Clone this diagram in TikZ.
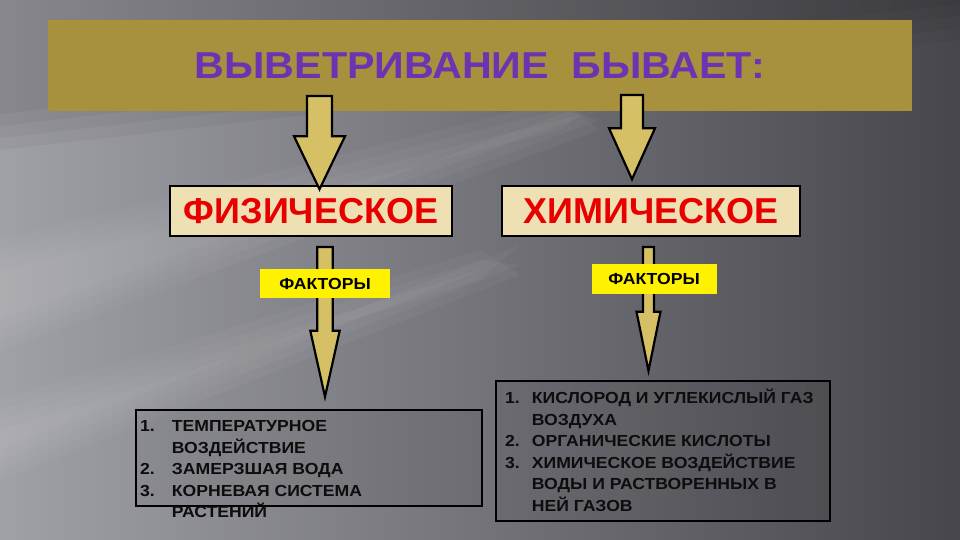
\documentclass[tikz,border=0pt]{standalone}
\usepackage{fontspec}
\setmainfont[FakeStretch=1.1]{Liberation Sans}
\newfontfamily\plainsans{Liberation Sans}
\usetikzlibrary{calc}

\definecolor{bandgold}{RGB}{168,145,60}
\definecolor{arrowgold}{RGB}{214,192,102}
\definecolor{boxbeige}{RGB}{238,224,178}
\definecolor{titlepurple}{RGB}{108,52,178}
\definecolor{catred}{RGB}{232,0,0}
\definecolor{bglight}{RGB}{160,160,167}
\definecolor{bgdark}{RGB}{70,70,76}

% block arrow: start, end, shaft half width, head half width, head length
\newcommand{\blockarrow}[5]{\draw[arrowbody] let \p1=(#1), \p2=(#2) in
  (\x1-#3,\y1) -- (\x1+#3,\y1) -- (\x1+#3,\y2+#5) -- (\x1+#4,\y2+#5) -- (\x1,\y2)
  -- (\x1-#4,\y2+#5) -- (\x1-#3,\y2+#5) -- cycle;}

\tikzset{
  titleband/.style={fill=bandgold, minimum width=864pt, minimum height=91pt, inner sep=0pt,
    text=titlepurple, font=\bfseries\fontsize{37.5}{40}\selectfont},
  catbox/.style={draw, line width=1.5pt, fill=boxbeige, text=catred, inner sep=0pt,
    minimum height=50pt, font=\plainsans\bfseries\fontsize{36}{40}\selectfont},
  factbox/.style={fill=yellow, inner sep=0pt, minimum height=29.5pt,
    font=\bfseries\fontsize{16}{18}\selectfont},
  listbox/.style={draw, line width=2.5pt, fill=black, fill opacity=0.06},
  listtext/.style={anchor=north west, inner sep=0pt, align=left, text=black!95,
    font=\bfseries\fontsize{16}{21.5}\selectfont},
  arrowbody/.style={draw, line width=2.2pt, fill=arrowgold, line join=miter},
  streak/.style={fill=white, opacity=0.035}
}

\begin{document}
\begin{tikzpicture}[x=1pt, y=-1pt]
  \useasboundingbox (0,0) rectangle (960,540);
  % background
  \begin{scope}
    \clip (0,0) rectangle (960,540);
    \fill[left color=bglight, right color=bgdark] (0,0) rectangle (960,540);
    \foreach \d in {0,12,24,36}
      \fill[black, opacity=0.04] (0,0) -- (960,0) -- (960,40-\d) -- (0,150-\d) -- cycle;
    \foreach \d in {0,10,20,30}{
      \fill[streak] (0,240+\d) -- (560,100+\d) -- (600,130-\d) -- (0,350-\d) -- cycle;
      \fill[streak] (0,400+\d) -- (480,250+\d) -- (520,275-\d) -- (0,480-\d) -- cycle;
    }
  \end{scope}

  \node[titleband](TITLE) at (480,65.5) {ВЫВЕТРИВАНИЕ\ \ БЫВАЕТ:};

  \node[catbox, minimum width=282pt](PHYS) at (311,211) {ФИЗИЧЕСКОЕ};
  \node[catbox, minimum width=298pt](CHEM) at (651,211) {ХИМИЧЕСКОЕ};

  \node[listbox, minimum width=346pt, minimum height=96pt](PLIST) at (309,458) {};
  \node[listbox, minimum width=334pt, minimum height=140pt](CLIST) at (663,451) {};

  \node[listtext](PLISTTXT) at (140,416.6) {%
    \begin{tabular}{@{}p{31.7pt}@{}l@{}}
      1. & ТЕМПЕРАТУРНОЕ\\
         & ВОЗДЕЙСТВИЕ\\
      2. & ЗАМЕРЗШАЯ ВОДА\\
      3. & КОРНЕВАЯ СИСТЕМА\\
         & РАСТЕНИЙ
    \end{tabular}};
  \node[listtext](CLISTTXT) at (505,388.3) {%
    \begin{tabular}{@{}p{26.7pt}@{}l@{}}
      1. & КИСЛОРОД И УГЛЕКИСЛЫЙ ГАЗ\\
         & ВОЗДУХА\\
      2. & ОРГАНИЧЕСКИЕ КИСЛОТЫ\\
      3. & ХИМИЧЕСКОЕ ВОЗДЕЙСТВИЕ\\
         & ВОДЫ И РАСТВОРЕННЫХ В\\
         & НЕЙ ГАЗОВ
    \end{tabular}};

  % arrows
  \coordinate (PTOP) at (319.5,96);
  \coordinate (CTOP) at (632,95);
  \coordinate (PLOW) at (325,247);
  \coordinate (CLOW) at (648.5,247);
  \blockarrow{PTOP}{$(PTOP |- PHYS.north)+(0,4)$}{12.5pt}{25.5pt}{53pt}
  \blockarrow{CTOP}{$(CTOP |- CHEM.north)+(0,-6)$}{11pt}{23pt}{51pt}
  \blockarrow{PLOW}{$(PLOW |- PLIST.north)+(0,-12)$}{7.7pt}{14.7pt}{66pt}
  \blockarrow{CLOW}{$(CLOW |- CLIST.north)+(0,-9)$}{5.5pt}{12pt}{59pt}

  \node[factbox, minimum width=130pt](PFACT) at (325,283.5) {ФАКТОРЫ};
  \node[factbox, minimum width=125pt](CFACT) at (654,279) {ФАКТОРЫ};
\end{tikzpicture}
\end{document}
